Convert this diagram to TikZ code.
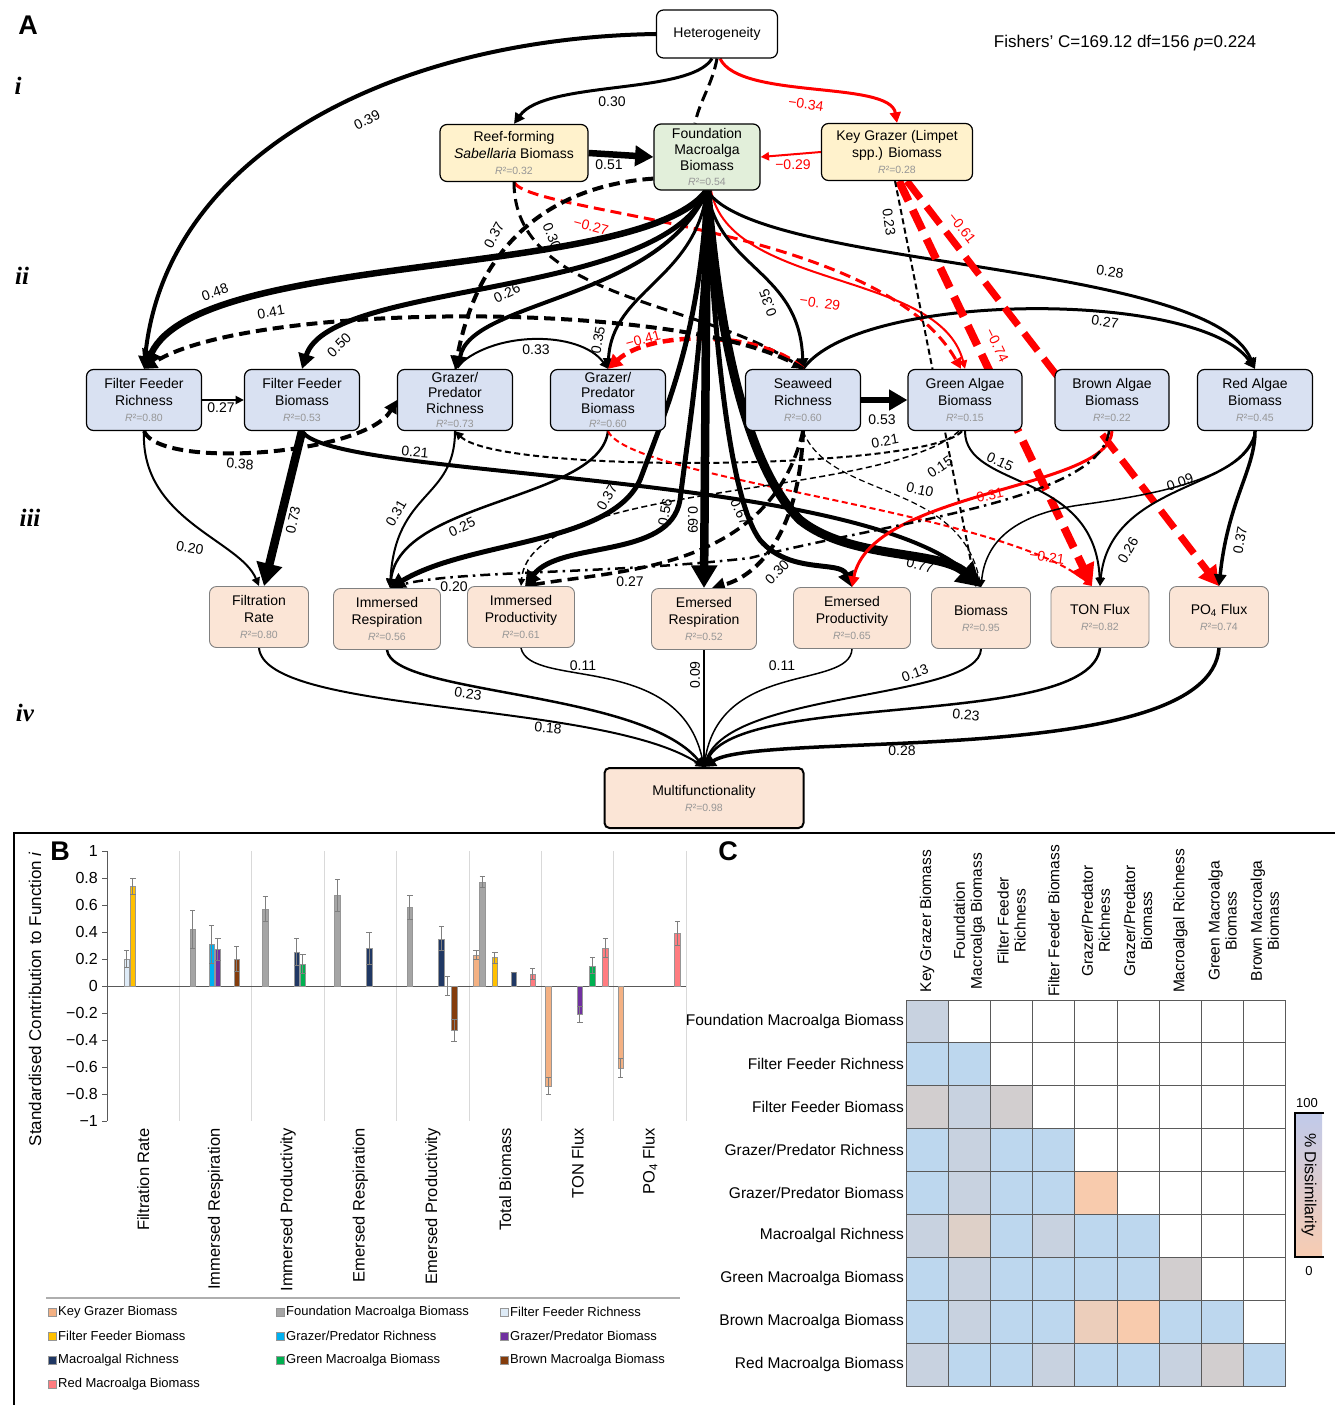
\documentclass[tikz,border=0pt]{standalone}
\usepackage{fontspec}
\setmainfont{Liberation Sans}
\newfontfamily\tierfont{Liberation Serif}
\usetikzlibrary{arrows.meta}
\definecolor{node_yell}{RGB}{255,242,204}
\definecolor{node_green}{RGB}{226,239,218}
\definecolor{node_blue}{RGB}{217,225,242}
\definecolor{node_peach}{RGB}{251,229,214}
\definecolor{edge_gray}{RGB}{128,128,128}
\definecolor{rsq_gray}{RGB}{150,150,150}
\definecolor{edge_red}{RGB}{255,0,0}
\definecolor{grid_gray}{RGB}{217,217,217}
\definecolor{axis_gray}{RGB}{89,89,89}
\definecolor{err_gray}{RGB}{127,127,127}
\definecolor{bar_edge}{RGB}{150,150,150}
\definecolor{c_kgb}{RGB}{244,177,131}
\definecolor{c_fmb}{RGB}{165,165,165}
\definecolor{c_ffr}{RGB}{222,235,247}
\definecolor{c_ffb}{RGB}{255,192,0}
\definecolor{c_gpr}{RGB}{0,176,240}
\definecolor{c_gpb}{RGB}{112,48,160}
\definecolor{c_mr}{RGB}{32,56,100}
\definecolor{c_grn}{RGB}{0,176,80}
\definecolor{c_brn}{RGB}{132,60,12}
\definecolor{c_red}{RGB}{255,124,128}
\definecolor{cell_b}{RGB}{189,215,238}
\definecolor{cell_g}{RGB}{200,210,224}
\definecolor{cell_q}{RGB}{210,206,207}
\definecolor{cell_p}{RGB}{222,208,200}
\definecolor{cell_o}{RGB}{248,203,173}
\definecolor{cell_l}{RGB}{236,206,187}
\definecolor{cell_line}{RGB}{90,90,90}
\definecolor{cbar_top}{RGB}{192,202,234}
\definecolor{cbar_bot}{RGB}{248,204,178}
\pgfdeclarelayer{bg}
\pgfsetlayers{bg,main}
\newcommand\rsq[1]{\\[-1pt]{\fontsize{10.5}{11}\selectfont\color{rsq_gray}\textit{R}²=#1}}

\begin{document}
\begin{tikzpicture}[x=1pt,y=-1pt,>={Triangle[length=4pt 2.2,width=3pt 2.6]}]
    \tikzstyle{box}=[draw=black, rounded corners=7pt, line width=1.2pt, align=center, inner sep=1pt, font=\fontsize{14}{17}\selectfont]
    \tikzstyle{hbox}=[style=box, fill=white, minimum width=121pt, minimum height=48pt]
    \tikzstyle{yel}=[style=box, fill=node_yell, minimum height=57pt]
    \tikzstyle{grn}=[style=box, fill=node_green, minimum width=106pt, minimum height=66pt, font=\fontsize{14}{16}\selectfont]
    \tikzstyle{blu}=[style=box, fill=node_blue, minimum width=115pt, minimum height=61pt]
    \tikzstyle{blufour}=[style=blu, font=\fontsize{14}{15.5}\selectfont]
    \tikzstyle{pch}=[style=box, fill=node_peach, draw=edge_gray, line width=0.9pt, minimum height=61pt]
    \tikzstyle{mfb}=[style=box, fill=node_peach, line width=2pt, rounded corners=5pt, minimum width=199pt, minimum height=60pt]
    \tikzstyle{pe}=[->, black]
    \tikzstyle{ne}=[->, edge_red]
    \tikzstyle{ds}=[dash pattern=on 6pt off 3.5pt]
    \tikzstyle{dl}=[dash pattern=on 11pt off 6pt]
    \tikzstyle{dxl}=[dash pattern=on 22pt off 10pt]
    \tikzstyle{dd}=[dash pattern=on 10pt off 5pt on 2.5pt off 5pt]
    \tikzstyle{lbl}=[font=\fontsize{14}{14}\selectfont, inner sep=1pt]
    \tikzstyle{nlbl}=[style=lbl, text=edge_red]
    \tikzstyle{panlbl}=[font=\fontsize{27}{27}\selectfont\bfseries, inner sep=0pt]
    \tikzstyle{tier}=[font=\fontsize{25}{25}\selectfont\tierfont\bfseries\itshape, inner sep=0pt]

    \useasboundingbox (0,0) rectangle (1335,1405);

    % panel A: nodes
    \node[panlbl] (pa) at (28,25) {A};
    \node[tier] (ti) at (18,86) {i};
    \node[tier] (tii) at (22,276) {ii};
    \node[tier] (tiii) at (30,518) {iii};
    \node[tier] (tiv) at (25,713) {iv};
    \node[font=\fontsize{17}{17}\selectfont] (fc) at (1125,43) {Fishers’ C=169.12 df=156 \textit{p}=0.224};

    \node[hbox] (het) at (717,34) {Heterogeneity};
    \node[yel, minimum width=148pt] (reef) at (514,153) {Reef-forming\\\textit{Sabellaria} Biomass\rsq{0.32}};
    \node[grn] (fmb) at (707,157) {Foundation\\Macroalga\\Biomass\rsq{0.54}};
    \node[yel, minimum width=151pt] (kgb) at (897,152) {Key Grazer (Limpet\\spp.) Biomass\rsq{0.28}};

    \node[blu] (ffr) at (144,400) {Filter Feeder\\Richness\rsq{0.80}};
    \node[blu] (ffb) at (302,400) {Filter Feeder\\Biomass\rsq{0.53}};
    \node[blufour] (gpr) at (455,400) {Grazer/\\Predator\\Richness\rsq{0.73}};
    \node[blufour] (gpb) at (608,400) {Grazer/\\Predator\\Biomass\rsq{0.60}};
    \node[blu] (swr) at (803,400) {Seaweed\\Richness\rsq{0.60}};
    \node[blu, minimum width=114pt] (gab) at (965,400) {Green Algae\\Biomass\rsq{0.15}};
    \node[blu, minimum width=114pt] (bab) at (1112,400) {Brown Algae\\Biomass\rsq{0.22}};
    \node[blu] (rab) at (1255,400) {Red Algae\\Biomass\rsq{0.45}};

    \node[pch, minimum width=99pt] (fr) at (259,617) {Filtration\\Rate\rsq{0.80}};
    \node[pch, minimum width=107pt] (ir) at (387,619) {Immersed\\Respiration\rsq{0.56}};
    \node[pch, minimum width=107pt] (ip) at (521,617) {Immersed\\Productivity\rsq{0.61}};
    \node[pch, minimum width=105pt] (er) at (704,619) {Emersed\\Respiration\rsq{0.52}};
    \node[pch, minimum width=117pt] (ep) at (852,618) {Emersed\\Productivity\rsq{0.65}};
    \node[pch, minimum width=99pt] (bio) at (981,618) {Biomass\rsq{0.95}};
    \node[pch, minimum width=98pt] (ton) at (1100,617) {TON Flux\rsq{0.82}};
    \node[pch, minimum width=99pt] (po4) at (1219,617) {PO\textsubscript{4} Flux\rsq{0.74}};

    \node[mfb] (mf) at (704,798) {Multifunctionality\rsq{0.98}};

    % panel A: paths
    \begin{pgfonlayer}{bg}
    \draw[pe,line width=4] (het.west) .. controls (400,38) and (165,150) .. (ffr.north);
    \draw[pe,line width=3] ([xshift=-5pt]het.south) .. controls (690,95) and (545,80) .. (reef.north);
    \draw[pe,dl,line width=3,-] (het.south) .. controls (712,85) and (700,100) .. ([xshift=-12pt]fmb.north);
    \draw[ne,line width=3] ([xshift=3pt]het.south) .. controls (740,100) and (890,80) .. (kgb.north);
    \draw[pe,line width=6.5] (reef.east) -- (fmb.west);
    \draw[ne,dl,line width=3] (reef.south) .. controls (530,215) and (880,225) .. ([xshift=-4pt]gab.north);
    \draw[pe,dl,line width=3] (reef.south) .. controls (514,300) and (700,300) .. (swr.north);
    \draw[ne,line width=2] (kgb.west) -- (fmb.east);

    \draw[pe,line width=6.5] (fmb.south) .. controls (640,280) and (200,250) .. (ffr.north);
    \draw[pe,line width=5] (fmb.south) .. controls (660,300) and (330,280) .. (ffb.north);
    \draw[pe,line width=4] (fmb.south) .. controls (660,300) and (470,300) .. ([xshift=3pt]gpr.north);
    \draw[pe,dl,line width=4] ([yshift=12pt]fmb.south west) .. controls (560,185) and (480,235) .. (gpr.north);
    \draw[pe,line width=3] (fmb.south) .. controls (695,280) and (612,290) .. (gpb.north);
    \draw[pe,line width=3] (fmb.south) .. controls (720,270) and (800,270) .. (swr.north);
    \draw[ne,line width=2] ([xshift=4pt]fmb.south) .. controls (730,290) and (940,270) .. (gab.north);
    \draw[pe,line width=3] (fmb.south) .. controls (760,270) and (1210,260) .. (rab.north);

    \draw[pe,line width=3] (swr.north) .. controls (860,290) and (1200,290) .. (rab.north);
    \draw[ne,dl,line width=4.5] (swr.north) .. controls (760,330) and (650,330) .. (gpb.north);
    \draw[pe,line width=2] (gpr.north) .. controls (490,330) and (580,330) .. (gpb.north);
    \draw[pe,dl,line width=4] (swr.north) .. controls (700,300) and (250,300) .. (ffr.north);
    \draw[pe,line width=2] (ffr.east) -- (ffb.west);
    \draw[pe,line width=6.5] (swr.east) -- (gab.west);

    \draw[ne,dxl,line width=8] ([xshift=2pt]kgb.south) -- ([xshift=-8pt]ton.north);
    \draw[ne,dxl,line width=7] ([xshift=10pt]kgb.south) -- (po4.north);
    \draw[pe,ds,line width=2] ([xshift=-2pt]kgb.south) -- ([xshift=-5pt]bio.north);

    \draw[pe,dl,line width=4] (ffr.south) .. controls (160,470) and (365,455) .. (gpr.west);
    \draw[pe,line width=2] (ffr.south) .. controls (140,520) and (240,540) .. (fr.north);
    \draw[pe,line width=8.5] (ffb.south) -- ([xshift=5pt]fr.north);
    \draw[pe,line width=4] (ffb.south) .. controls (330,480) and (870,470) .. (bio.north);
    \draw[pe,line width=2] (gpr.south) .. controls (455,500) and (395,490) .. ([xshift=3pt]ir.north);
    \draw[pe,ds,line width=2] ([xshift=-3pt]gab.south) .. controls (930,470) and (500,475) .. (gpr.south);
    \draw[pe,line width=2.5] (gpb.south) .. controls (600,500) and (400,500) .. ([xshift=3pt]ir.north);
    \draw[ne,ds,line width=2] (gpb.south) .. controls (630,480) and (1000,510) .. ([xshift=-8pt]ton.north);

    \draw[pe,line width=5] (fmb.south) .. controls (700,330) and (670,400) .. (640,480) .. controls (610,545) and (470,540) .. ([xshift=3pt]ir.north);
    \draw[pe,line width=5] (fmb.south) .. controls (705,330) and (690,420) .. (680,500) .. controls (670,560) and (560,540) .. ([xshift=4pt]ip.north);
    \draw[pe,line width=8.5] (fmb.south) -- (er.north);
    \draw[pe,line width=5] (fmb.south) .. controls (715,350) and (730,500) .. (760,540) .. controls (790,575) and (840,560) .. (ep.north);
    \draw[pe,line width=9] (fmb.south) .. controls (720,350) and (750,470) .. (800,520) .. controls (850,560) and (940,550) .. (bio.north);

    \draw[pe,ds,line width=1.2] (swr.south) .. controls (830,500) and (960,480) .. (bio.north);
    \draw[pe,dl,line width=4] (swr.south) .. controls (800,530) and (760,575) .. ([xshift=8pt]er.north);
    \draw[pe,dl,line width=3.5] (swr.south) .. controls (770,570) and (620,570) .. ([xshift=4pt]ip.north);
    \draw[pe,ds,line width=1.5] ([xshift=-6pt]gab.south) .. controls (880,500) and (530,480) .. (ip.north);
    \draw[pe,line width=2] (gab.south) .. controls (965,490) and (1095,470) .. (ton.north);
    \draw[ne,line width=3] (bab.south) .. controls (1110,490) and (870,490) .. (ep.north);
    \draw[pe,dd,line width=2.5] ([xshift=-3pt]bab.south) .. controls (1100,500) and (900,520) .. (750,558) .. controls (600,575) and (450,570) .. ([xshift=3pt]ir.north);
    \draw[pe,line width=1.5] (rab.south) .. controls (1245,480) and (1150,495) .. (1080,505) .. controls (1010,515) and (985,545) .. (bio.north);
    \draw[pe,line width=2] (rab.south) .. controls (1250,490) and (1110,480) .. (ton.north);
    \draw[pe,line width=3.5] (rab.south) .. controls (1255,470) and (1228,500) .. (po4.north);

    \draw[pe,line width=2] (fr.south) .. controls (265,715) and (600,700) .. (mf.north);
    \draw[pe,line width=2.5] (ir.south) .. controls (392,695) and (640,690) .. (mf.north);
    \draw[pe,line width=1.5] (ip.south) .. controls (530,690) and (680,650) .. (mf.north);
    \draw[pe,line width=2] (er.south) -- (mf.north);
    \draw[pe,line width=1.5] (ep.south) .. controls (850,690) and (720,660) .. (mf.north);
    \draw[pe,line width=2] (bio.south) .. controls (980,700) and (730,690) .. (mf.north);
    \draw[pe,line width=2.5] (ton.south) .. controls (1090,730) and (740,690) .. (mf.north);
    \draw[pe,line width=3.5] (po4.south) .. controls (1210,770) and (760,730) .. (mf.north);
    \end{pgfonlayer}

    % panel A: coefficients
    \node[lbl, rotate=27] (l1) at (367,120) {0.39};
    \node[lbl] (l2) at (612,102) {0.30};
    \node[nlbl, rotate=-8] (l3) at (806,104) {−0.34};
    \node[lbl] (l4) at (609,165) {0.51};
    \node[nlbl] (l5) at (793,165) {−0.29};
    \node[nlbl, rotate=-15] (l6) at (591,226) {−0.27};
    \node[lbl, rotate=-68] (l7) at (552,236) {0.30};
    \node[lbl, rotate=62] (l8) at (494,235) {0.37};
    \node[lbl, rotate=-82] (l9) at (889,222) {0.23};
    \node[nlbl, rotate=-52] (l10) at (962,228) {−0.61};
    \node[lbl, rotate=20] (l11) at (215,292) {0.48};
    \node[lbl, rotate=25] (l12) at (507,293) {0.26};
    \node[lbl, rotate=110] (l13) at (768,303) {0.35};
    \node[nlbl, rotate=-8] (l14) at (820,303) {−0. 29};
    \node[lbl, rotate=-8] (l15) at (1110,272) {0.28};
    \node[lbl, rotate=10] (l16) at (271,312) {0.41};
    \node[lbl, rotate=-8] (l17) at (1105,322) {0.27};
    \node[lbl, rotate=45] (l18) at (339,345) {0.50};
    \node[lbl] (l19) at (536,350) {0.33};
    \node[lbl, rotate=80] (l20) at (598,340) {0.35};
    \node[nlbl, rotate=15] (l21) at (643,339) {−0.41};
    \node[nlbl, rotate=-64] (l22) at (997,345) {−0.74};
    \node[lbl] (l23) at (221,408) {0.27};
    \node[lbl] (l24) at (882,420) {0.53};
    \node[lbl, rotate=-5] (l25) at (240,464) {0.38};
    \node[lbl, rotate=-5] (l26) at (415,452) {0.21};
    \node[lbl, rotate=10] (l27) at (885,441) {0.21};
    \node[lbl, rotate=35] (l28) at (940,467) {0.15};
    \node[lbl, rotate=-25] (l29) at (1000,462) {0.15};
    \node[lbl, rotate=-12] (l30) at (920,490) {0.10};
    \node[nlbl, rotate=12] (l31) at (986,496) {−0.31};
    \node[lbl, rotate=20] (l32) at (1180,482) {0.09};
    \node[lbl, rotate=78] (l33) at (293,520) {0.73};
    \node[lbl, rotate=60] (l34) at (396,513) {0.31};
    \node[lbl, rotate=25] (l35) at (462,527) {0.25};
    \node[lbl, rotate=60] (l36) at (607,497) {0.37};
    \node[lbl, rotate=80] (l37) at (665,512) {0.56};
    \node[lbl, rotate=-90] (l38) at (693,520) {0.69};
    \node[lbl, rotate=-65] (l39) at (740,512) {0.67};
    \node[lbl, rotate=-10] (l40) at (190,548) {0.20};
    \node[lbl] (l41) at (454,587) {0.20};
    \node[lbl] (l42) at (630,582) {0.27};
    \node[lbl, rotate=45] (l43) at (777,572) {0.30};
    \node[lbl, rotate=-15] (l44) at (920,565) {0.77};
    \node[nlbl, rotate=-8] (l45) at (1047,557) {−0.21};
    \node[lbl, rotate=60] (l46) at (1128,550) {0.26};
    \node[lbl, rotate=80] (l47) at (1240,540) {0.37};
    \node[lbl] (l48) at (583,666) {0.11};
    \node[lbl, rotate=90] (l49) at (695,675) {0.09};
    \node[lbl] (l50) at (782,666) {0.11};
    \node[lbl, rotate=20] (l51) at (915,673) {0.13};
    \node[lbl, rotate=-8] (l52) at (468,694) {0.23};
    \node[lbl, rotate=-5] (l53) at (966,715) {0.23};
    \node[lbl, rotate=-5] (l54) at (548,728) {0.18};
    \node[lbl] (l55) at (902,751) {0.28};

    % panel B
    \draw[line width=1.5] (14,1405) -- (14,833) -- (1335,833);
    \node[panlbl] (pb) at (60,851) {B};
    \foreach \k in {1,...,8}
        \draw[grid_gray, line width=1] ({107+72.4*\k},851) -- ({107+72.4*\k},1121);
    \draw[axis_gray, line width=1] (107,851) -- (107,1121);
    \foreach \v/\t [count=\n] in {1/1, 0.8/0.8, 0.6/0.6, 0.4/0.4, 0.2/0.2, 0/0, -0.2/−0.2, -0.4/−0.4, -0.6/−0.6, -0.8/−0.8, -1/−1} {
        \draw[axis_gray, line width=1] (102,{986-135*\v}) -- (107,{986-135*\v});
        \node[anchor=east, inner sep=0pt, font=\fontsize{16}{16}\selectfont] (tk\n) at (98,{986-135*\v}) {\t};
    }
    \draw[axis_gray, line width=1] (107,986) -- (686,986);
    \foreach \k/\s/\v/\e/\cl in {0/2/0.20/0.065/c_ffr, 0/3/0.74/0.06/c_ffb,
        1/1/0.42/0.14/c_fmb, 1/4/0.31/0.14/c_gpr, 1/5/0.27/0.08/c_gpb, 1/8/0.20/0.09/c_brn,
        2/1/0.57/0.09/c_fmb, 2/6/0.25/0.10/c_mr, 2/7/0.16/0.07/c_grn,
        3/1/0.67/0.12/c_fmb, 3/6/0.28/0.12/c_mr,
        4/1/0.58/0.09/c_fmb, 4/6/0.35/0.09/c_mr, 4/7/0.0/0.07/c_grn, 4/8/-0.33/0.08/c_brn,
        5/0/0.23/0.03/c_kgb, 5/1/0.77/0.04/c_fmb, 5/3/0.21/0.04/c_ffb, 5/6/0.10/0.0/c_mr, 5/9/0.09/0.04/c_red,
        6/0/-0.74/0.06/c_kgb, 6/5/-0.21/0.06/c_gpb, 6/7/0.15/0.06/c_grn, 6/9/0.28/0.07/c_red,
        7/0/-0.61/0.07/c_kgb, 7/9/0.39/0.09/c_red} {
        \pgfmathsetmacro\bx{114+72.4*\k+6.3*\s}
        \pgfmathsetmacro\by{986-135*\v}
        \pgfmathsetmacro\lo{986-135*(\v-\e)}
        \pgfmathsetmacro\hi{986-135*(\v+\e)}
        \filldraw[fill=\cl, draw=bar_edge, line width=0.5] ({\bx-2.8},986) rectangle ({\bx+2.8},\by);
        \draw[err_gray, line width=1] (\bx,\lo) -- (\bx,\hi) ({\bx-2.6},\lo) -- ({\bx+2.6},\lo) ({\bx-2.6},\hi) -- ({\bx+2.6},\hi);
    }
    \foreach \t [count=\k] in {Filtration Rate, Immersed Respiration, Immersed Productivity, Emersed Respiration, Emersed Productivity, Total Biomass, TON Flux, PO\textsubscript{4} Flux}
        \node[rotate=90, anchor=east, inner sep=0pt, font=\fontsize{16.5}{16.5}\selectfont] (cat\k) at ({107+72.4*(\k-0.5)},1128) {\t};
    \node[rotate=90, inner sep=0pt, font=\fontsize{17}{17}\selectfont] (ylab) at (35,999) {Standardised Contribution to Function \textit{i}};
    \draw[grid_gray!80!black, line width=1.2] (46,1298) -- (680,1298);
    \foreach \x/\y/\cl/\t [count=\n] in {48/1312/c_kgb/{Key Grazer Biomass}, 276/1312/c_fmb/{Foundation Macroalga Biomass}, 500/1312/c_ffr/{Filter Feeder Richness},
        48/1336/c_ffb/{Filter Feeder Biomass}, 276/1336/c_gpr/{Grazer/Predator Richness}, 500/1336/c_gpb/{Grazer/Predator Biomass},
        48/1360/c_mr/{Macroalgal Richness}, 276/1360/c_grn/{Green Macroalga Biomass}, 500/1360/c_brn/{Brown Macroalga Biomass},
        48/1384/c_red/{Red Macroalga Biomass}} {
        \filldraw[fill=\cl, draw=bar_edge, line width=0.6] (\x,{\y-4}) rectangle ({\x+8},{\y+4});
        \node[anchor=west, inner sep=0pt, font=\fontsize{13}{13}\selectfont] (lg\n) at ({\x+10},\y) {\t};
    }

    % panel C
    \node[panlbl] (pc) at (728,851) {C};
    \foreach \r/\row in {1/{g}, 2/{b,b}, 3/{q,g,q}, 4/{b,g,b,b}, 5/{b,g,b,b,o}, 6/{g,p,b,g,b,b},
        7/{b,g,b,b,b,b,q}, 8/{b,g,b,b,l,o,b,b}, 9/{g,b,b,g,b,b,g,q,b}} {
        \foreach \cc [count=\c] in \row
            \fill[cell_\cc] ({906+42.2*(\c-1)},{1000+42.9*(\r-1)}) rectangle ++(42.2,42.9);
    }
    \foreach \i in {0,...,9} {
        \draw[cell_line, line width=1] ({906+42.2*\i},1000) -- ({906+42.2*\i},1386);
        \draw[cell_line, line width=1] (906,{1000+42.9*\i}) -- (1286,{1000+42.9*\i});
    }
    \foreach \t [count=\r] in {Foundation Macroalga Biomass, Filter Feeder Richness, Filter Feeder Biomass, {Grazer/Predator Richness}, {Grazer/Predator Biomass}, Macroalgal Richness, Green Macroalga Biomass, Brown Macroalga Biomass, Red Macroalga Biomass}
        \node[anchor=east, inner sep=1pt, font=\fontsize{15.5}{15.5}\selectfont] (rl\r) at (905,{1000+42.9*(\r-0.5)}) {\t};
    \foreach \t [count=\c] in {{Key Grazer Biomass}, {Foundation\\Macroalga Biomass}, {Filter Feeder\\Richness}, {Filter Feeder Biomass}, {Grazer/Predator\\Richness}, {Grazer/Predator\\Biomass}, {Macroalgal Richness}, {Green Macroalga\\Biomass}, {Brown Macroalga\\Biomass}}
        \node[rotate=90, align=center, inner sep=0pt, font=\fontsize{15.5}{17}\selectfont] (cl\c) at ({906+42.2*(\c-0.5)},921) {\t};
    \shade[top color=cbar_top, bottom color=cbar_bot] (1296,1113) rectangle (1322,1257);
    \draw[line width=1.5] (1324,1113) -- (1295,1113) -- (1295,1257) -- (1324,1257);
    \node[rotate=-90, inner sep=0pt, font=\fontsize{16}{16}\selectfont] (cbl) at (1309,1185) {\% Dissimilarity};
    \node[inner sep=0pt, font=\fontsize{13}{13}\selectfont] (cbh) at (1307,1103) {100};
    \node[inner sep=0pt, font=\fontsize{13}{13}\selectfont] (cbz) at (1309,1271) {0};
\end{tikzpicture}
\end{document}
